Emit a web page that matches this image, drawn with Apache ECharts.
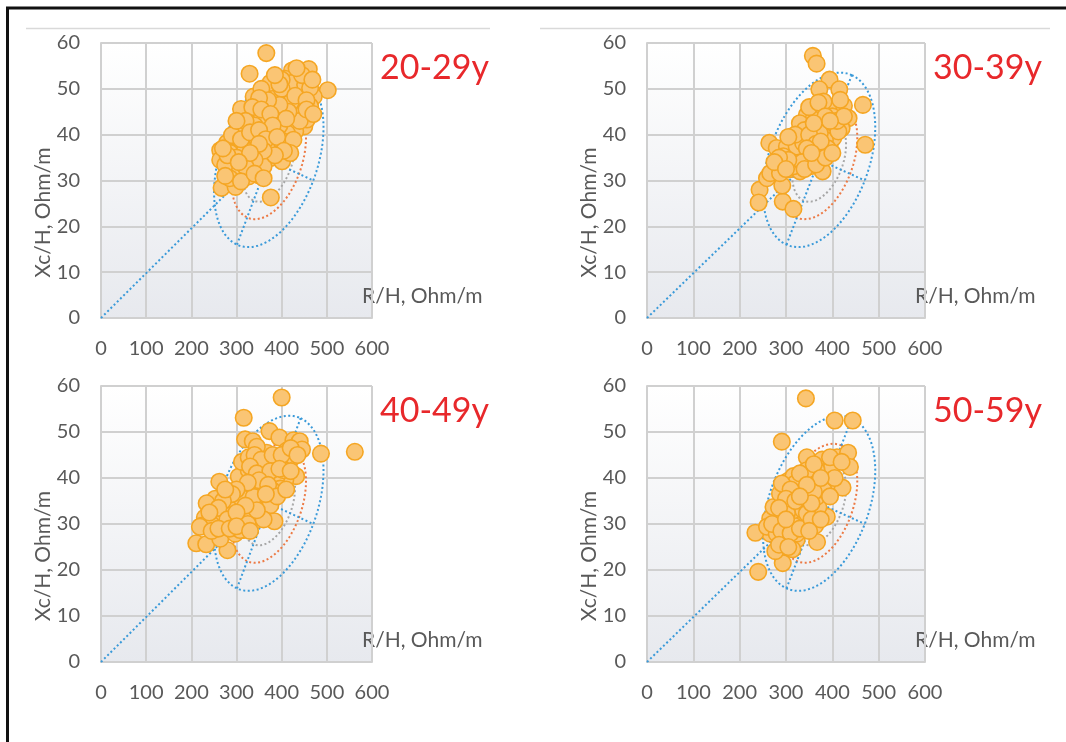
<!DOCTYPE html>
<html>
<head>
<meta charset="utf-8">
<script src="https://cdn.jsdelivr.net/npm/echarts@6/dist/echarts.min.js"></script>
<style>
html,body{margin:0;padding:0;background:#fff;}
#c{width:1066px;height:742px;}
</style>
</head>
<body>
<div id="c"></div>
<script>
// ---------- DATA ----------
var panelTitles = ['20-29y', '30-39y', '40-49y', '50-59y'];
var xTickValues = [0, 100, 200, 300, 400, 500, 600];
var yTickValues = [0, 10, 20, 30, 40, 50, 60];
var xAxisName = 'R/H, Ohm/m';
var yAxisName = 'Xc/H, Ohm/m';

var pts2029 = [
  [366,57.8],[329,53.3],[502,49.7],[310,45.6],[267,28.4],[376,26.3],[298,28.6],[264,36.6],[264,34.5],
  [460,54.3],[423,54],[408,52.2],[437,52.1],[350,31.1],[327,30.9],[297,31.1],[286,32.4],[293,34.4],
  [323,40.3],[330,37.4],[305,37.4],[338,48.3],[360,47.6],[382,46.5],[403,45.2],[415,42],[450,41.8],
  [471,48.3],[463,46.2],[445,47.6],[401,48],[371,40.3],[379,37.1],[375,34.9],[401,34.2],[412,37.8],
  [430,40.7],[393,43.3],[345,45.8],[345,39.3],[349,35.3],[279,38.2],[275,33.4],[319,34.5],[338,33.1],
  [308,32.4],[367,43.3],[382,40.3],[412,40.3],[434,44],[441,49.4],[389,49.8],[412,50.2],[423,51.3],
  [375,51.3],[452,50.9],[463,50.2],[360,41.8],[308,41.1],[293,39.6],[286,36],[319,36.7],[367,37.4],
  [397,38.9],[426,38.9],[419,36],[426,45.4],[448,44.7],[456,43.3],[352,43.6],[327,42.5],[338,36],
  [360,33.1],[316,39.9],[290,39.9],[400,52],[420,47],[355,50],
  [400,50],[430,48.5],[455,47.5],[440,43],[415,45],[395,46.5],[370,47.5],[350,48],[335,46],[355,45.5],
  [375,44.5],[395,42],[410,43.5],[380,42],[340,42],[320,43],[300,43],[310,39],[330,40.5],[350,41],
  [365,39],[390,39.5],[405,36.5],[385,35.5],[360,36.5],[340,34.5],[320,33],[300,35],[280,35.5],[270,37],
  [285,30.5],[310,29.8],[340,31.5],[360,30.5],[445,53],[468,52],[433,54.5],[395,51],[385,53],[350,38],
  [330,36],[305,34],[275,31],[455,45.5],[470,44.5]
];
var pts3039 = [
  [358,57.2],[366,55.5],[394,52],[372,49.9],[415,49.9],[466,46.5],[425,46.3],[435,43.6],[471,37.8],
  [264,38.2],[280,37.1],[243,28],[241,25.2],[293,25.4],[316,23.8],[292,28.9],[379,32],[282,33.4],
  [305,32.4],[330,32],[259,30.5],[266,31.6],[345,34.2],[341,36.4],[359,37.4],[377,36.4],[395,38.2],
  [402,39.3],[420,41.4],[384,41.8],[358,41.2],[330,40.7],[316,38.9],[302,37.4],[363,45.1],[345,44.3],
  [377,44.3],[402,45.1],[391,45.8],[417,47.6],[359,43.3],[316,35.3],[330,35.3],[294,35.3],[370,35.3],
  [384,38.9],[402,42.5],[352,38.9],[323,37.4],[287,31.6],[316,33.1],[352,33.1],[337,38.2],[373,40.3],
  [413,40.7],[330,42.5],[381,47.2],
  [350,46],[370,47],[400,44],[410,43],[425,44],[385,44],[340,41],[320,40],[305,39.5],[350,40],
  [365,38],[390,37],[375,38.5],[345,37],[335,34],[305,34.5],[285,35],[275,34],[300,32.5],[340,32.5],
  [365,33.5],[385,35],[400,36],[355,36],[395,43],[360,42.5]
];
var pts4049 = [
  [400,57.5],[316,53.1],[373,50.2],[395,48.8],[319,48.4],[336,48],[426,48.2],[440,48],[445,46.2],
  [487,45.3],[562,45.7],[262,39.2],[253,35.5],[234,34.5],[230,31.4],[222,29.6],[211,25.8],[233,25.6],
  [280,24.3],[264,26.8],[256,31.2],[267,29.4],[286,35.9],[301,34.1],[316,28.7],[297,27.9],[338,30.5],
  [384,30.6],[360,35.3],[330,34.5],[316,38.1],[305,40.3],[327,41.7],[312,43.5],[327,44.5],[367,45.5],
  [389,43.9],[415,43],[432,40.4],[408,39.5],[389,40.3],[364,40.3],[397,37.7],[345,37.4],[352,42.4],
  [338,38.8],[293,31.6],[286,33.4],[323,32.3],[352,33],[375,34.1],[249,30.1],[271,32.3],[308,35.9],
  [338,35.9],[378,37.4],[426,44.6],[412,46],[404,41.7],[367,43.9],[345,46.8],[308,28.7],[219,29.4],
  [340,45],[355,44],[380,45],[400,45],[420,46.5],[435,45],[330,42.5],[345,41],[375,41.5],[395,42],
  [420,41.5],[350,39.5],[370,38.5],[325,39],[300,37.5],[290,36.5],[270,35],[260,33.5],[280,31],[305,30.5],
  [325,30],[360,31],[345,33],[320,34],[300,32.5],[245,28.5],[260,29],[285,29],[300,29.5],[330,28.5],
  [390,36],[410,37.5],[365,36.5],[275,37.5],[240,32.5]
];
var pts5059 = [
  [343,57.3],[405,52.5],[444,52.5],[291,47.9],[345,44.5],[410,44.5],[434,45.5],[438,42.4],[379,42.8],
  [378,44],[422,37.9],[356,40.3],[305,39.4],[316,40.4],[388,38.5],[388,31.6],[370,33.7],[344,35.8],
  [295,34.5],[275,31.6],[266,27.9],[234,28.1],[240,19.6],[293,21.5],[277,24.1],[298,26.5],[323,26.6],
  [314,24.5],[367,26.1],[338,30.5],[363,29.7],[316,29.7],[266,31.2],[259,29.4],[287,30.1],[316,33],
  [337,33],[345,32.3],[273,33.7],[287,36.6],[305,36.6],[330,38.1],[352,38.5],[373,39.5],[388,41.4],
  [399,42.4],[366,41.7],[345,41.7],[337,35.9],[366,35.9],[320,38.8],[302,32.3],[323,27.9],[280,27.9],
  [381,37.4],[291,38.8],
  [360,43],[395,44.5],[420,43.5],[330,41],[310,37.5],[300,35.5],[285,33.5],[270,30],[290,28.5],[310,28],
  [330,29],[355,31],[375,31],[395,36],[405,40],[360,37],[320,35],[355,34.5],[300,31],[285,25.5],
  [305,25],[350,28.5],[375,40],[345,38.5],[330,36]
];
var panelPoints = [pts2029, pts3039, pts4049, pts5059];

// reference tolerance ellipses (centre, conjugate semi-axes, scale of each ellipse)
var ellipseCenter = [371.5, 34.5];
var ellipseU = [70.5, 18.5];
var ellipseV = [98.5, -4.5];
var ellipseScales = [1, 0.68, 0.48];
var ellipseColors = ['#3a9ad9', '#ec7a45', '#a6a6a6'];
var originLineEnd = [355, 34.7];

// ---------- LAYOUT ----------
var grids = [
  {left:101, top:43, width:271, height:275},
  {left:647, top:43, width:278, height:275},
  {left:101, top:386, width:271, height:276},
  {left:647, top:386, width:278, height:276}
];

function ellipsePts(k){
  var out = [];
  for (var i = 0; i <= 120; i++){
    var t = i / 120 * Math.PI * 2;
    out.push([
      ellipseCenter[0] + k * (ellipseU[0] * Math.cos(t) + ellipseV[0] * Math.sin(t)),
      ellipseCenter[1] + k * (ellipseU[1] * Math.cos(t) + ellipseV[1] * Math.sin(t))
    ]);
  }
  return out;
}

var FONT = 'Lato, "Open Sans", sans-serif';
var gridOpt = [], xAxes = [], yAxes = [], series = [], graphics = [];

grids.forEach(function(g, i){
  gridOpt.push({
    left: g.left, top: g.top, width: g.width, height: g.height,
    show: true, borderWidth: 0,
    backgroundColor: new echarts.graphic.LinearGradient(0,0,0,1,[
      {offset:0,color:'#ffffff'},{offset:1,color:'#e7e9ee'}
    ])
  });
  xAxes.push({
    type:'value', gridIndex:i, min:xTickValues[0], max:xTickValues[xTickValues.length-1], interval:100,
    axisLine:{show:true, lineStyle:{color:'#d0d0d0', width:2}},
    axisTick:{show:false},
    splitLine:{show:true, lineStyle:{color:'#d0d0d0', width:2}},
    axisLabel:{color:'#595959', fontSize:20, fontFamily:FONT, margin:21}
  });
  yAxes.push({
    type:'value', gridIndex:i, min:yTickValues[0], max:yTickValues[yTickValues.length-1], interval:10,
    axisLine:{show:true, lineStyle:{color:'#d0d0d0', width:2}},
    axisTick:{show:false},
    splitLine:{show:true, lineStyle:{color:'#d0d0d0', width:2}},
    axisLabel:{color:'#595959', fontSize:20, fontFamily:FONT, margin:21}
  });
  ellipseScales.forEach(function(k, j){
    series.push({
      type:'line', xAxisIndex:i, yAxisIndex:i, data: ellipsePts(k), showSymbol:false, silent:true,
      lineStyle:{color:ellipseColors[j], width:2, type:[2,2.5]}, z:2, animation:false
    });
  });
  var A = [ellipseCenter[0]-ellipseU[0], ellipseCenter[1]-ellipseU[1]];
  var B = [ellipseCenter[0]+ellipseU[0], ellipseCenter[1]+ellipseU[1]];
  var D = [ellipseCenter[0]+ellipseV[0], ellipseCenter[1]+ellipseV[1]];
  [[[0,0], originLineEnd], [A, B], [ellipseCenter, D]].forEach(function(seg){
    series.push({
      type:'line', xAxisIndex:i, yAxisIndex:i, data: seg, showSymbol:false, silent:true,
      lineStyle:{color:'#3a9ad9', width:2, type:[2,2.5]}, z:2, animation:false
    });
  });
  series.push({
    type:'scatter', xAxisIndex:i, yAxisIndex:i, data: panelPoints[i], symbol:'circle', symbolSize:16.5,
    itemStyle:{color:'#fac574', borderColor:'#f5a623', borderWidth:1.6, opacity:1}, z:5, animation:false
  });

  // axis names & panel titles
  graphics.push({
    type:'text', x: g.left - 58, y: g.top + g.height/2 + 32, rotation: Math.PI/2,
    style:{text:yAxisName, fontSize:21, fontFamily:FONT, fill:'#595959', textAlign:'center', textVerticalAlign:'middle'}
  });
  graphics.push({
    type:'text', x: g.left + g.width - 10, y: g.top + g.height - 22,
    style:{text:xAxisName, fontSize:21, fontFamily:FONT, fill:'#595959', textAlign:'left', textVerticalAlign:'middle'}
  });
  graphics.push({
    type:'text', x: g.left + g.width + 8, y: g.top + 25,
    style:{text:panelTitles[i], fontSize:34, fontFamily:FONT, fill:'#e8282b', textAlign:'left', textVerticalAlign:'middle'}
  });
});

// frame lines
graphics.push({type:'line', shape:{x1:6, y1:8, x2:1066, y2:8}, style:{stroke:'#111', lineWidth:3}});
graphics.push({type:'line', shape:{x1:7.5, y1:7, x2:7.5, y2:742}, style:{stroke:'#111', lineWidth:3}});
graphics.push({type:'line', shape:{x1:26, y1:28.5, x2:490, y2:28.5}, style:{stroke:'#d9d9d9', lineWidth:1.5}});
graphics.push({type:'line', shape:{x1:540, y1:28.5, x2:1050, y2:28.5}, style:{stroke:'#d9d9d9', lineWidth:1.5}});

var chart = echarts.init(document.getElementById('c'));
chart.setOption({
  animation:false,
  backgroundColor:'#ffffff',
  grid: gridOpt, xAxis: xAxes, yAxis: yAxes, series: series, graphic: graphics
});
</script>
</body>
</html>
